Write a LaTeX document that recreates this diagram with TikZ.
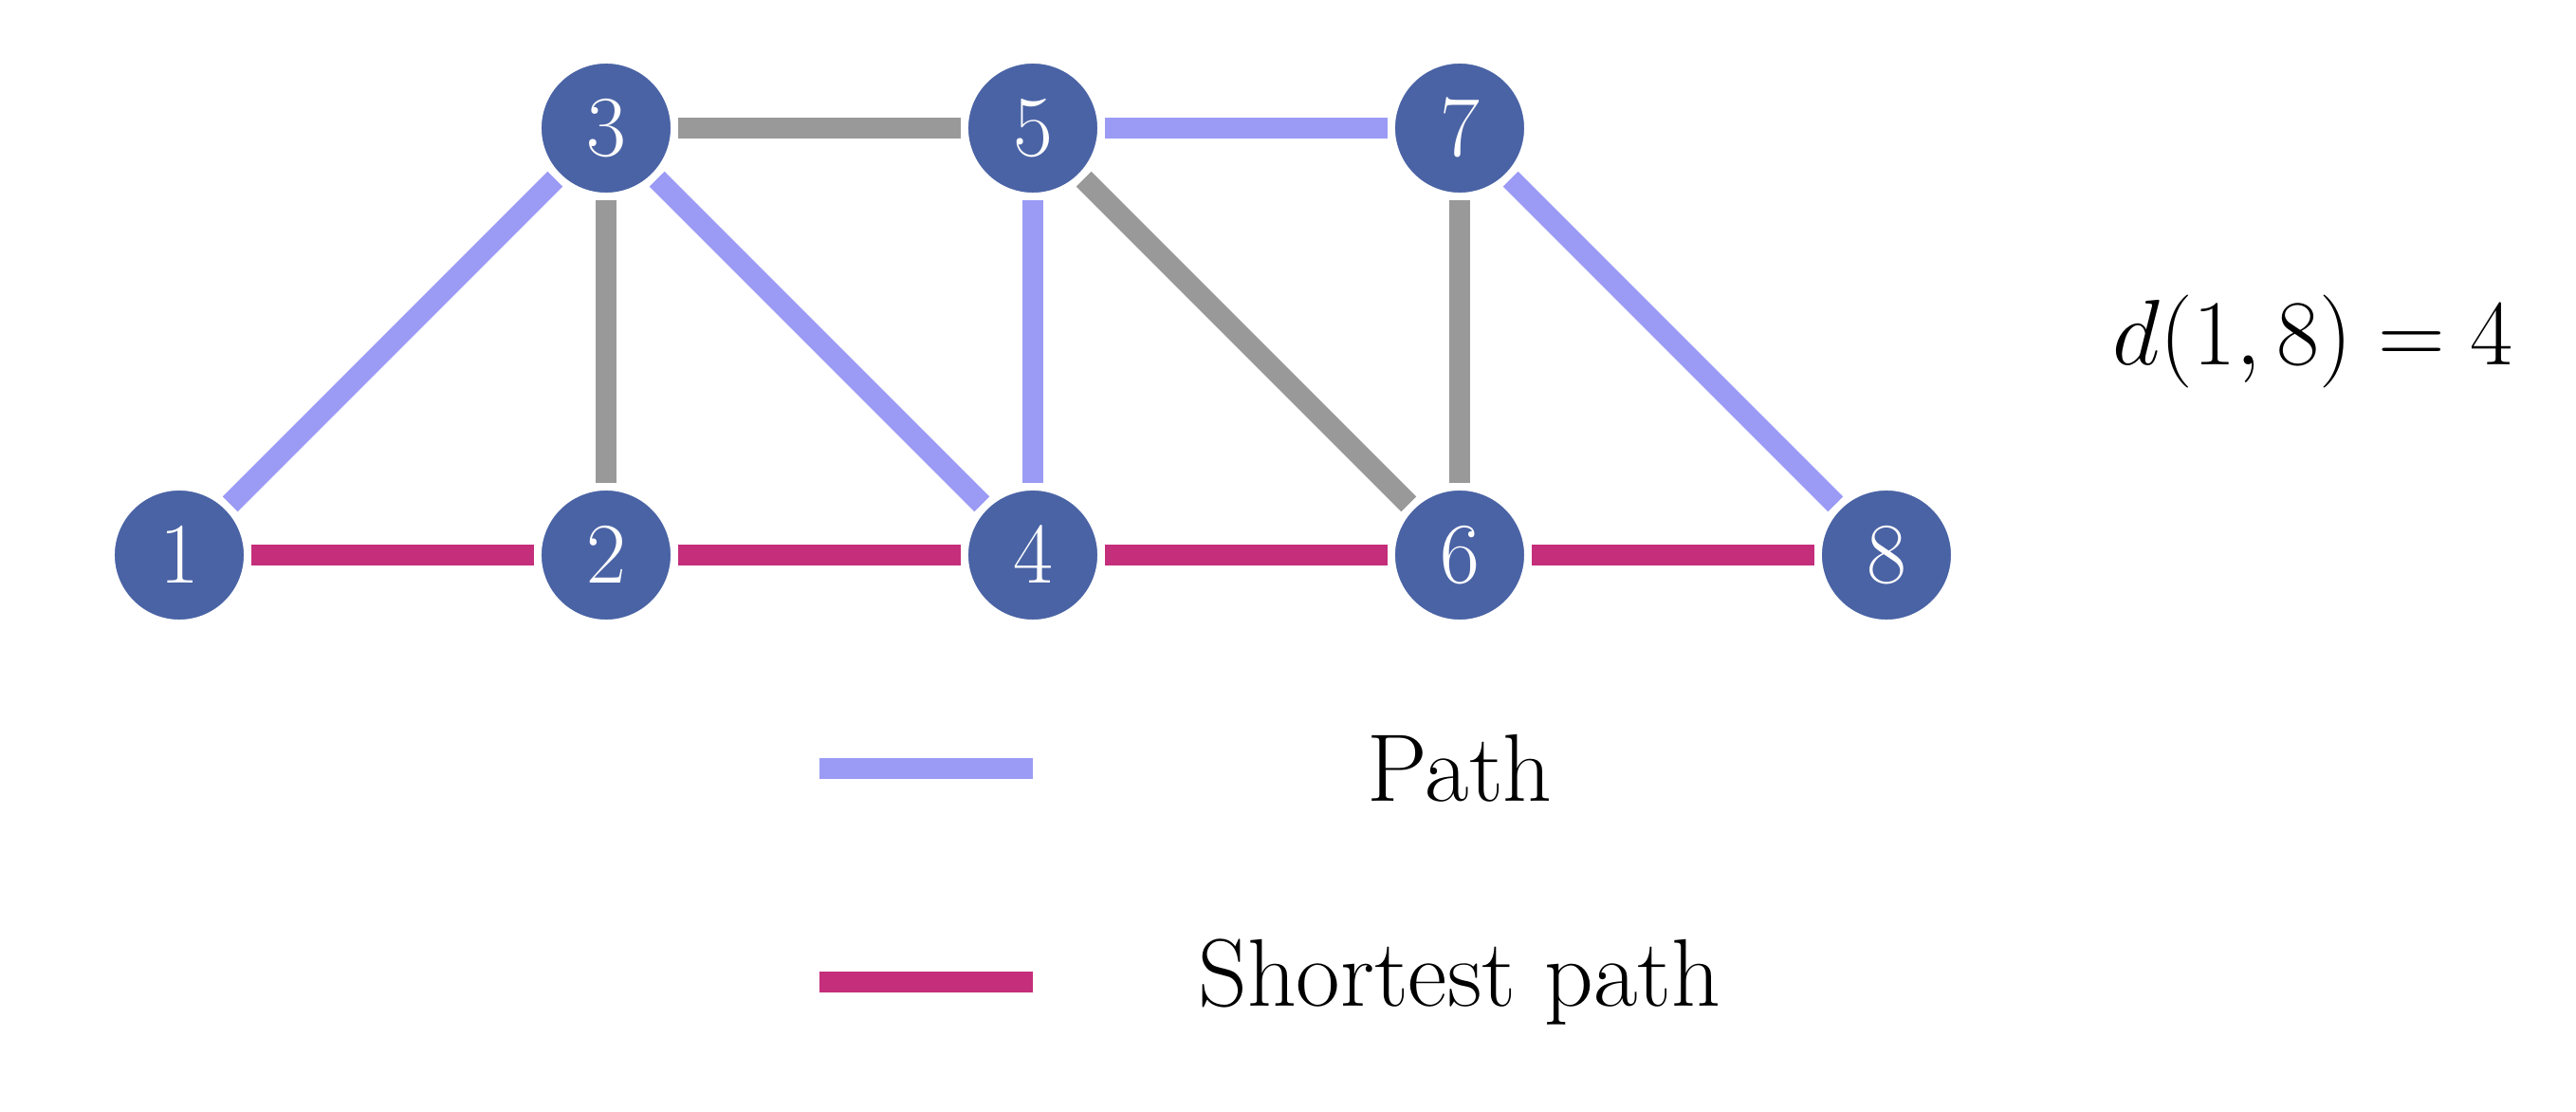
\documentclass[tikz,border=0pt]{standalone}
\usepackage{fix-cm}
\usepackage{tikz}
\definecolor{nodeblue}{RGB}{74,99,165}
\definecolor{pathblue}{RGB}{155,155,245}
\definecolor{shortred}{RGB}{196,46,122}
\definecolor{edgegray}{RGB}{153,153,153}
\begin{document}
\begin{tikzpicture}[
    vertex/.style={circle, fill=nodeblue, draw=white, line width=1.5pt, minimum size=0.96cm, inner sep=0pt, text=white, font=\fontsize{17.28}{20}\selectfont},
    grayedge/.style={line width=0.15cm, edgegray},
    pathedge/.style={line width=0.15cm, pathblue},
    shortedge/.style={line width=0.15cm, shortred},
    label/.style={font=\fontsize{19.2}{23}\selectfont}
  ]
  \useasboundingbox (-1.26,-3.913) rectangle (16.847,3.9);
  \foreach \n/\x/\y in {1/0/0, 2/3/0, 3/3/3, 4/6/0, 5/6/3, 6/9/0, 7/9/3, 8/12/0}{
    \node[vertex] (v\n) at (\x,\y) {$\n$};
  }
  \foreach \a/\b in {3/2, 3/5, 5/6, 7/6}{
    \draw[grayedge] (v\a) -- (v\b);
  }
  \foreach \a/\b in {1/3, 3/4, 5/4, 5/7, 7/8}{
    \draw[pathedge] (v\a) -- (v\b);
  }
  \foreach \a/\b in {1/2, 2/4, 4/6, 6/8}{
    \draw[shortedge] (v\a) -- (v\b);
  }
  \node[font=\fontsize{18.6}{22}\selectfont] (dist) at (15,1.5) {$d(1,8) = 4$};
  % legend
  \coordinate (pa) at (4.5,-1.5);
  \coordinate (pb) at (6,-1.5);
  \coordinate (sa) at (4.5,-3);
  \coordinate (sb) at (6,-3);
  \draw[pathedge] (pa) -- (pb);
  \draw[shortedge] (sa) -- (sb);
  \node[label] (ptext) at (9,-1.5) {Path};
  \node[label] (stext) at (9,-3) {Shortest path};
\end{tikzpicture}
\end{document}
